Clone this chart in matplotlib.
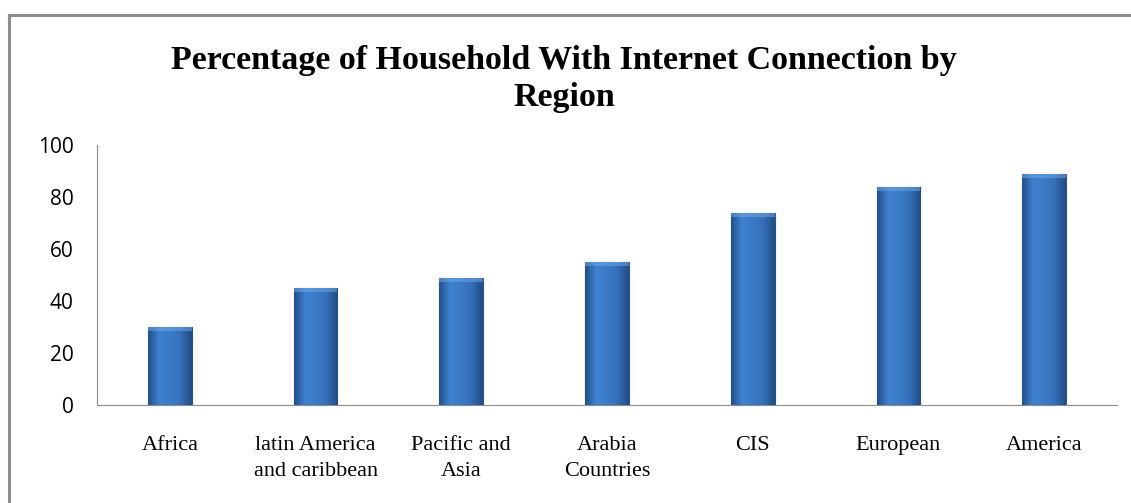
import numpy as np
import matplotlib.pyplot as plt
from matplotlib.colors import LinearSegmentedColormap
from matplotlib.lines import Line2D

regions = ["Africa", "latin America\nand caribbean", "Pacific and\nAsia",
           "Arabia\nCountries", "CIS", "European", "America"]
percent = [30, 45, 49, 55, 74, 84, 89]
y_ticks = [0, 20, 40, 60, 80, 100]

fig = plt.figure(figsize=(11.31, 5.03), dpi=100)
ax = fig.add_axes([0.0858, 0.1948, 0.9018, 0.5169])

x = np.arange(len(regions))
bars = ax.bar(x, percent, width=0.3, color="#3a78c2", edgecolor="#28568f",
              linewidth=0.8, zorder=2)

# bevel-like shading: horizontal gradient clipped to each bar
cmap = LinearSegmentedColormap.from_list(
    "bevel", ["#23508a", "#3f82d0", "#3b7bc6", "#3470b8", "#224c85"])
grad = np.linspace(0, 1, 64).reshape(1, -1)
for b in bars:
    x0, w, h = b.get_x(), b.get_width(), b.get_height()
    im = ax.imshow(grad, cmap=cmap, aspect="auto", zorder=3,
                   extent=[x0, x0 + w, 0, h], interpolation="bicubic")
    im.set_clip_path(b)
    # lighter top cap
    ax.fill_between([x0, x0 + w], h - 1.6, h, color="#6fa6e6", alpha=0.55,
                    zorder=4, linewidth=0)

ax.set_xlim(-0.5, len(regions) - 0.5)
ax.set_ylim(0, 100)
ax.set_yticks(y_ticks)
ax.set_yticklabels([str(v) for v in y_ticks], family="Open Sans", fontsize=15)
ax.set_xticks(x)
ax.set_xticklabels(regions, family="Liberation Serif", fontsize=16,
                   linespacing=1.55)
ax.tick_params(axis="y", length=0, pad=17)
ax.tick_params(axis="x", length=0, pad=22)

for side in ["top", "right"]:
    ax.spines[side].set_visible(False)
ax.spines["left"].set_color("#8c8c8c")
ax.spines["bottom"].set_color("#8c8c8c")

fig.text(0.499, 0.843, "Percentage of Household With Internet Connection by\nRegion",
         ha="center", va="center", family="Liberation Serif", fontsize=24.5,
         fontweight="bold", linespacing=1.22)

# outer chart border (top and left only visible)
fig.add_artist(Line2D([0.008, 1.0], [0.97, 0.97], color="#8c8c8c", lw=2.2))
fig.add_artist(Line2D([0.008, 0.008], [0.0, 0.97], color="#8c8c8c", lw=2.2))

fig.savefig("out.png", dpi=100)
